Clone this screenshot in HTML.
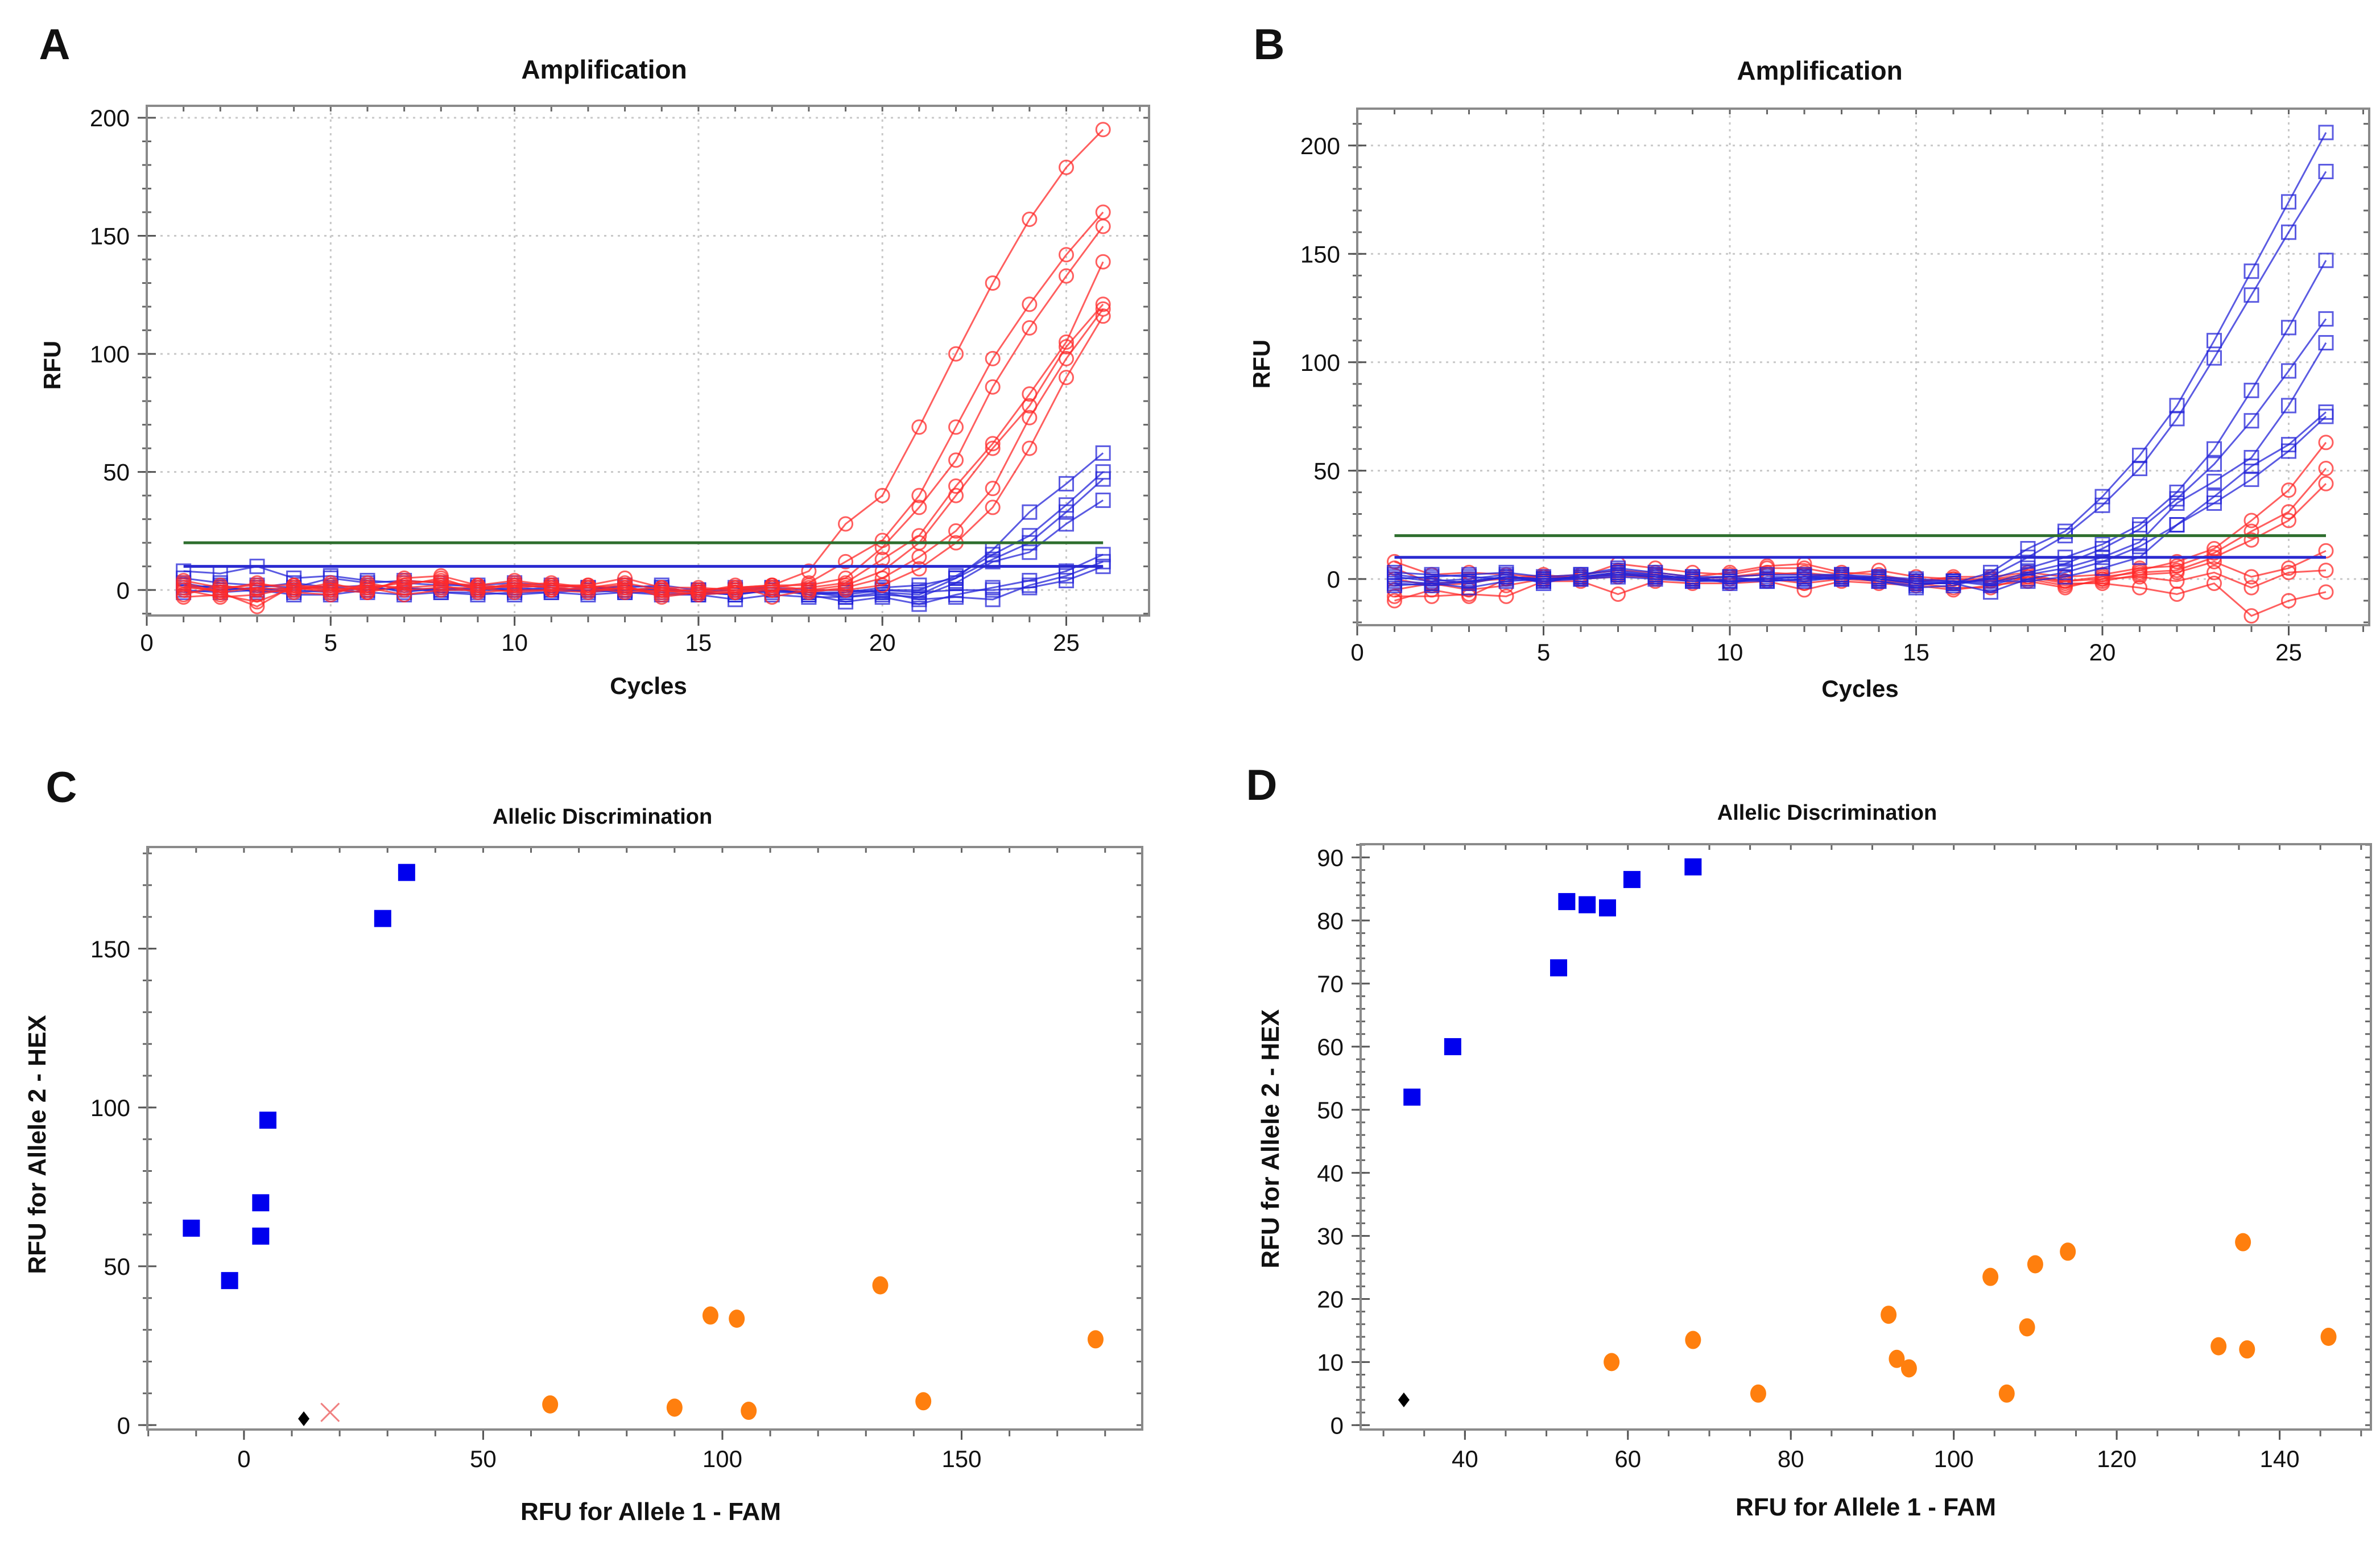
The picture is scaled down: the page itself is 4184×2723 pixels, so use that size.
<!DOCTYPE html>
<html><head><meta charset="utf-8">
<style>
html,body{margin:0;padding:0;background:#fff;overflow:hidden;}
svg{display:block;}
text{font-family:"Liberation Sans",Arial,sans-serif;}
</style></head>
<body>
<svg id="fig" width="4184" height="2723" viewBox="0 0 4184 2723" xmlns="http://www.w3.org/2000/svg">
<rect width="4184" height="2723" fill="#fff"/>
</svg>
<script>
// ---------- DATA ----------
const cycles = [1,2,3,4,5,6,7,8,9,10,11,12,13,14,15,16,17,18,19,20,21,22,23,24,25,26];
// Panel A – red (circles)
const aRed1 = [2,-1,1,0,2,1,3,4,1,2,1,0,1,-1,0,1,2,8,28,40,69,100,130,157,179,195];
const aRed2 = [-3,-2,-5,1,0,-1,2,5,0,3,1,2,0,1,-1,0,1,3,12,21,40,69,98,121,142,160];
const aRed3 = [4,1,2,2,1,0,4,3,2,1,2,1,3,0,0,1,2,2,5,18,35,55,86,111,133,154];
const aRed4 = [0,-3,-2,1,-1,2,1,2,-1,0,0,-1,1,-2,-1,-1,0,1,3,13,23,44,62,83,105,139];
const aRed5 = [1,0,3,0,3,-1,5,6,2,4,2,2,5,1,1,0,2,0,2,8,20,40,60,78,103,121];
const aRed6 = [-2,2,0,-1,-2,3,0,1,1,-1,0,1,-1,0,-2,-1,1,-1,1,5,14,25,43,73,98,119];
const aRed7 = [3,-1,-7,2,0,1,-2,0,0,2,3,1,2,-3,-1,2,-3,0,0,2,9,20,35,60,90,116];
// Panel A – blue (squares)
const aBlue1 = [8,7,10,5,6,4,3,2,2,3,2,1,1,2,0,1,1,0,0,-1,-2,5,17,33,45,58];
const aBlue2 = [5,3,2,1,5,3,4,3,1,2,1,0,2,1,-1,-2,0,-1,-2,0,0,6,15,23,36,50];
const aBlue3 = [3,0,1,3,1,2,-1,1,0,1,0,1,0,0,-1,0,1,-2,-1,1,2,5,13,20,33,47];
const aBlue4 = [0,-1,0,-2,-2,0,1,-1,-2,-1,-1,-2,-1,-2,-2,-4,-2,-3,-3,-2,-3,3,12,16,28,38];
const aBlue5 = [1,2,-1,0,-1,1,0,0,1,0,1,-1,0,1,-1,-2,0,-2,-5,-3,-6,-2,1,4,8,15];
const aBlue6 = [-1,0,1,-1,0,-1,-2,-1,-1,-2,-1,0,-1,-1,-2,-1,-1,-1,-3,-1,-4,-3,-4,2,6,12];
const aBlue7 = [2,1,0,1,1,0,1,0,0,0,0,0,0,0,0,0,0,-1,-1,0,-1,0,0,1,4,10];
const aThresholdGreen = 20;
const aThresholdBlue = 10;
// Panel B – blue (squares)
const bBlue1 = [-2,-3,-1,1,0,1,3,2,0,-1,0,1,2,0,-2,-2,3,14,22,38,57,80,110,142,174,206];
const bBlue2 = [1,-1,0,2,-2,2,5,3,1,1,-1,0,1,-1,-4,-3,1,10,20,34,51,74,102,131,160,188];
const bBlue3 = [3,2,1,0,-1,1,2,1,1,-2,1,1,0,1,-1,-2,0,5,10,16,25,40,60,87,116,147];
const bBlue4 = [-3,-2,-4,-1,0,0,1,0,-1,0,0,-1,1,-1,-3,-1,-2,3,7,14,23,37,53,73,96,120];
const bBlue5 = [0,1,2,3,1,2,4,2,0,1,2,2,2,1,0,-1,-3,2,5,10,17,35,45,56,80,109];
const bBlue6 = [-1,-2,-1,1,-1,0,2,1,-1,-1,-1,0,0,0,-2,-2,-6,0,3,8,15,25,38,52,62,77];
const bBlue7 = [2,0,-2,1,0,1,3,1,0,-1,0,1,1,0,-1,-1,-1,-1,1,5,10,25,35,46,59,75];
// Panel B – red (circles)
const bRed1 = [8,2,3,2,1,1,7,5,3,2,5,5,2,4,1,0,0,2,-1,0,4,8,14,27,41,63];
const bRed2 = [5,-2,-1,0,1,2,4,3,1,3,6,7,3,2,-1,1,1,3,1,2,5,6,12,22,31,51];
const bRed3 = [0,-3,-2,1,0,1,2,2,0,1,3,2,1,1,-1,0,-1,1,-1,1,3,4,10,18,27,44];
const bRed4 = [-5,-2,-5,-3,0,0,1,1,-1,0,0,-2,0,-1,-2,-2,0,0,-3,-1,2,3,8,1,5,13];
const bRed5 = [-8,-8,-7,-8,-1,-1,-7,-1,-2,-2,-1,-5,-1,-2,-3,-5,-3,-1,-4,0,1,-1,3,-4,3,4];
const bRed6 = [-10,-5,-8,0,2,0,3,0,0,1,2,3,1,0,-2,-4,-4,1,-2,-2,-4,-7,-2,-17,-10,-6];
const bThresholdGreen = 20;
const bThresholdBlue = 10;
// Panel C – scatter
const cBlueX = [-11,-3,3.5,3.5,5,29,34];
const cBlueY = [62,45.5,59.5,70,96,159.5,174];
const cOrangeX = [64,90,97.5,103,105.5,133,142,178];
const cOrangeY = [6.5,5.5,34.5,33.5,4.5,44,7.5,27];
const cBlackX = [12.5];
const cBlackY = [2];
const cXMarkX = [18];
const cXMarkY = [4];
// Panel D – scatter
const dBlueX = [33.5,38.5,51.5,52.5,55,57.5,60.5,68];
const dBlueY = [52,60,72.5,83,82.5,82,86.5,88.5];
const dOrangeX = [58,68,76,92,93,94.5,104.5,106.5,109,110,114,132.5,135.5,136,146];
const dOrangeY = [10,13.5,5,17.5,10.5,9,23.5,5,15.5,25.5,27.5,12.5,29,12,14];
const dBlackX = [32.5];
const dBlackY = [4];
// tick labels
const ampXTicks = [0,5,10,15,20,25];
const ampYTicks = [0,50,100,150,200];
const cXTicks = [0,50,100,150];
const cYTicks = [0,50,100,150];
const dXTicks = [40,60,80,100,120,140];
const dYTicks = [0,10,20,30,40,50,60,70,80,90];

// ---------- DRAW ----------
const NS = "http://www.w3.org/2000/svg";
const svg = document.getElementById('fig');
function mk(tag, attrs, parent){
  const e = document.createElementNS(NS, tag);
  for (const k in attrs) e.setAttribute(k, attrs[k]);
  (parent||svg).appendChild(e);
  return e;
}
function txt(s, x, y, size, weight, anchor, parent, rot){
  const t = mk('text', {x:x, y:y, 'font-size':size, 'font-weight':weight||'normal', 'text-anchor':anchor||'middle', fill:'#111'}, parent);
  if (rot) t.setAttribute('transform', 'rotate(-90 '+x+' '+y+')');
  t.textContent = s;
  return t;
}
function makeAxes(p){
  p.sx = v => p.L + (v - p.x0) / (p.x1 - p.x0) * (p.R - p.L);
  p.sy = v => p.B - (v - p.y0) / (p.y1 - p.y0) * (p.B - p.T);
  const g = mk('g', {});
  
  
  if (p.grid){
    p.xt.forEach(v => { const x = p.sx(v); mk('line', {x1:x, x2:x, y1:p.T, y2:p.B, stroke:'#c8c8c8', 'stroke-width':3, 'stroke-dasharray':'4 8'}, g); });
    p.yt.forEach(v => { const y = p.sy(v); mk('line', {x1:p.L, x2:p.R, y1:y, y2:y, stroke:'#c8c8c8', 'stroke-width':3, 'stroke-dasharray':'4 8'}, g); });
  }
  for (let v = Math.ceil(p.x0 / p.xm) * p.xm; v <= p.x1; v += p.xm){
    const x = p.sx(v);
    mk('line', {x1:x, x2:x, y1:p.B, y2:p.B + 12, stroke:'#666', 'stroke-width':3}, g);
    mk('line', {x1:x, x2:x, y1:p.T, y2:p.T + 10, stroke:'#666', 'stroke-width':3}, g);
  }
  for (let v = Math.ceil(p.y0 / p.ym) * p.ym; v <= p.y1; v += p.ym){
    const y = p.sy(v);
    mk('line', {x1:p.L - 8, x2:p.L + 8, y1:y, y2:y, stroke:'#666', 'stroke-width':3}, g);
    mk('line', {x1:p.R - 10, x2:p.R, y1:y, y2:y, stroke:'#666', 'stroke-width':3}, g);
  }
  p.xt.forEach(v => { const x = p.sx(v); mk('line', {x1:x, x2:x, y1:p.B, y2:p.B + 18, stroke:'#555', 'stroke-width':3}, g); });
  p.yt.forEach(v => { const y = p.sy(v); mk('line', {x1:p.L - 16, x2:p.L + 16, y1:y, y2:y, stroke:'#555', 'stroke-width':3}, g); });
  mk('rect', {x:p.L, y:p.T, width:p.R - p.L, height:p.B - p.T, fill:'none', stroke:'#8a8a8a', 'stroke-width':4}, g);
  p.xt.forEach(v => { const t = txt(String(v), p.sx(v), p.B + p.xlOff, p.fs, 'normal', 'middle', g);   });
  p.yt.forEach(v => { const t = txt(String(v), p.L - 30, p.sy(v) + p.fs * 0.36, p.fs, 'normal', 'end', g);   });
  return g;
}
function labels(p, letter, lx, ly, title, tx, ty, tfs, xl, xlx, xly, yl, ylx, yly, afs){
  let t = txt(letter, lx, ly, 76, 'bold', 'middle');
  
  
  t = txt(title, tx, ty, tfs, 'bold', 'middle');
  
  
  t = txt(xl, xlx, xly, afs, 'bold', 'middle');
  
  
  t = txt(yl, ylx, yly, afs, 'bold', 'middle', null, true);
  
  
}
function series(p, xs, ys, color, marker, name){
  const g = mk('g', {});
  
  
  const pts = xs.map((x, i) => p.sx(x).toFixed(1) + ',' + p.sy(ys[i]).toFixed(1)).join(' ');
  mk('polyline', {points:pts, fill:'none', stroke:color, 'stroke-width':3, 'stroke-opacity':0.75}, g);
  xs.forEach((x, i) => {
    const cx = p.sx(x), cy = p.sy(ys[i]);
    if (marker === 'circle') mk('circle', {cx:cx, cy:cy, r:12, fill:'none', stroke:color, 'stroke-width':3, 'stroke-opacity':0.75}, g);
    else mk('rect', {x:cx - 12, y:cy - 12, width:24, height:24, fill:'none', stroke:color, 'stroke-width':3, 'stroke-opacity':0.75}, g);
  });
}
function hline(p, v, color, name){
  const l = mk('line', {x1:p.sx(1), x2:p.sx(26), y1:p.sy(v), y2:p.sy(v), stroke:color, 'stroke-width':5});
  
  
}
function scatter(p, xs, ys, kind, color, name){
  const g = mk('g', {});
  
  
  xs.forEach((x, i) => {
    const cx = p.sx(x), cy = p.sy(ys[i]);
    if (kind === 'square') mk('rect', {x:cx - 15, y:cy - 15, width:30, height:30, fill:color}, g);
    else if (kind === 'circle') mk('ellipse', {cx:cx, cy:cy, rx:14, ry:16, fill:color}, g);
    else if (kind === 'diamond') mk('polygon', {points:(cx)+','+(cy-13)+' '+(cx+10)+','+cy+' '+cx+','+(cy+13)+' '+(cx-10)+','+cy, fill:color}, g);
    else { mk('line', {x1:cx-16, y1:cy-16, x2:cx+16, y2:cy+16, stroke:color, 'stroke-width':3}, g); mk('line', {x1:cx-16, y1:cy+16, x2:cx+16, y2:cy-16, stroke:color, 'stroke-width':3}, g); }
  });
}

const RED = '#ff2a2a', BLUE = '#2424d8';
// Panel A
const pA = {name:'panel-a', L:258, R:2020, T:186, B:1082, x0:0, x1:27.25, y0:-10.8, y1:(1037-186)/4.15, xt:ampXTicks, yt:ampYTicks, xm:1, ym:10, grid:true, fs:42, xlOff:62};
makeAxes(pA);
labels(pA, 'A', 96, 104, 'Amplification', 1062, 138, 46, 'Cycles', 1140, 1220, 'RFU', 106, 642, 42);
series(pA, cycles, aBlue1, BLUE, 'square', 'a-blue-series-1');
series(pA, cycles, aBlue2, BLUE, 'square', 'a-blue-series-2');
series(pA, cycles, aBlue3, BLUE, 'square', 'a-blue-series-3');
series(pA, cycles, aBlue4, BLUE, 'square', 'a-blue-series-4');
series(pA, cycles, aBlue5, BLUE, 'square', 'a-blue-series-5');
series(pA, cycles, aBlue6, BLUE, 'square', 'a-blue-series-6');
series(pA, cycles, aBlue7, BLUE, 'square', 'a-blue-series-7');
series(pA, cycles, aRed1, RED, 'circle', 'a-red-series-1');
series(pA, cycles, aRed2, RED, 'circle', 'a-red-series-2');
series(pA, cycles, aRed3, RED, 'circle', 'a-red-series-3');
series(pA, cycles, aRed4, RED, 'circle', 'a-red-series-4');
series(pA, cycles, aRed5, RED, 'circle', 'a-red-series-5');
series(pA, cycles, aRed6, RED, 'circle', 'a-red-series-6');
series(pA, cycles, aRed7, RED, 'circle', 'a-red-series-7');
hline(pA, aThresholdGreen, '#2e6e2e', 'a-threshold-green');
hline(pA, aThresholdBlue, '#2a2ad0', 'a-threshold-blue');

// Panel B
const pB = {name:'panel-b', L:2386, R:4165, T:191, B:1099, x0:0, x1:(4165-2386)/65.5, y0:-21.3, y1:217, xt:ampXTicks, yt:ampYTicks, xm:1, ym:10, grid:true, fs:42, xlOff:62};
makeAxes(pB);
labels(pB, 'B', 2231, 104, 'Amplification', 3199, 140, 46, 'Cycles', 3270, 1225, 'RFU', 2232, 640, 42);
series(pB, cycles, bRed1, RED, 'circle', 'b-red-series-1');
series(pB, cycles, bRed2, RED, 'circle', 'b-red-series-2');
series(pB, cycles, bRed3, RED, 'circle', 'b-red-series-3');
series(pB, cycles, bRed4, RED, 'circle', 'b-red-series-4');
series(pB, cycles, bRed5, RED, 'circle', 'b-red-series-5');
series(pB, cycles, bRed6, RED, 'circle', 'b-red-series-6');
series(pB, cycles, bBlue1, BLUE, 'square', 'b-blue-series-1');
series(pB, cycles, bBlue2, BLUE, 'square', 'b-blue-series-2');
series(pB, cycles, bBlue3, BLUE, 'square', 'b-blue-series-3');
series(pB, cycles, bBlue4, BLUE, 'square', 'b-blue-series-4');
series(pB, cycles, bBlue5, BLUE, 'square', 'b-blue-series-5');
series(pB, cycles, bBlue6, BLUE, 'square', 'b-blue-series-6');
series(pB, cycles, bBlue7, BLUE, 'square', 'b-blue-series-7');
hline(pB, bThresholdGreen, '#2e6e2e', 'b-threshold-green');
hline(pB, bThresholdBlue, '#2a2ad0', 'b-threshold-blue');

// Panel C
const pC = {name:'panel-c', L:259, R:2008, T:1489, B:2513, x0:-20.2, x1:(2008-429)/8.41, y0:-1.4, y1:182, xt:cXTicks, yt:cYTicks, xm:10, ym:10, grid:false, fs:42, xlOff:66};
makeAxes(pC);
labels(pC, 'C', 108, 1410, 'Allelic Discrimination', 1059, 1448, 38, 'RFU for Allele 1 - FAM', 1144, 2672, 'RFU for Allele 2 - HEX', 80, 2012, 44);
scatter(pC, cBlueX, cBlueY, 'square', '#0000ee', 'c-allele2-points');
scatter(pC, cOrangeX, cOrangeY, 'circle', '#ff7f0e', 'c-allele1-points');
scatter(pC, cBlackX, cBlackY, 'diamond', '#000', 'c-ntc-point');
scatter(pC, cXMarkX, cXMarkY, 'x', '#f08080', 'c-undetermined-point');

// Panel D
const pD = {name:'panel-d', L:2392, R:4168, T:1484, B:2513, x0:27.2, x1:151.2, y0:-0.7, y1:92.1, xt:dXTicks, yt:dYTicks, xm:5, ym:2, grid:false, fs:42, xlOff:66};
makeAxes(pD);
labels(pD, 'D', 2218, 1406, 'Allelic Discrimination', 3212, 1441, 38, 'RFU for Allele 1 - FAM', 3280, 2664, 'RFU for Allele 2 - HEX', 2248, 2002, 44);
scatter(pD, dBlueX, dBlueY, 'square', '#0000ee', 'd-allele2-points');
scatter(pD, dOrangeX, dOrangeY, 'circle', '#ff7f0e', 'd-allele1-points');
scatter(pD, dBlackX, dBlackY, 'diamond', '#000', 'd-ntc-point');
</script>
</body></html>
